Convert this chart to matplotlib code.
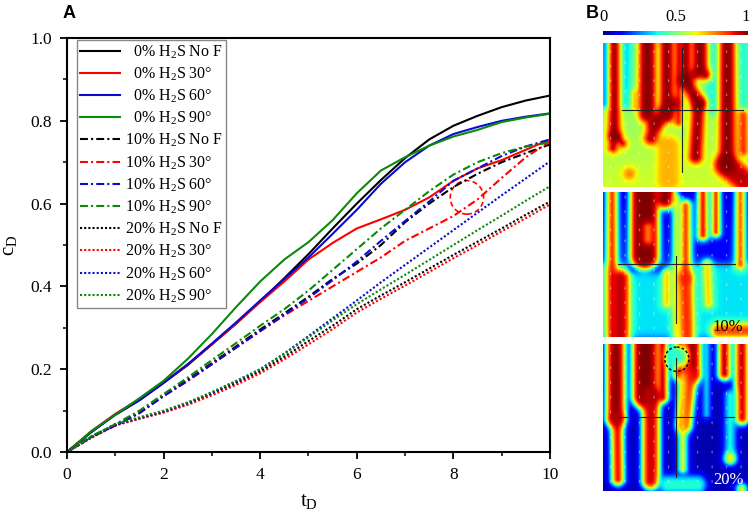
import numpy as np
import matplotlib
matplotlib.use('Agg')
import matplotlib.pyplot as plt
from matplotlib.patches import Ellipse, Circle

plt.rcParams['font.family'] = 'Liberation Serif'
plt.rcParams['mathtext.fontset'] = 'custom'
plt.rcParams['mathtext.rm'] = 'Liberation Serif'
plt.rcParams['mathtext.it'] = 'Liberation Serif:italic'

# dimensionless time
t_D = [0, 0.5, 1.0, 1.5, 2.0, 2.5, 3.0, 3.5, 4.0, 4.5, 5.0,
       5.5, 6.0, 6.5, 7.0, 7.5, 8.0, 8.5, 9.0, 9.5, 10.0]

# 0% H2S (solid)
c0_nof = [0, 0.048, 0.090, 0.125, 0.167, 0.210, 0.260, 0.310, 0.364, 0.420, 0.478,
          0.540, 0.600, 0.657, 0.710, 0.755, 0.788, 0.812, 0.833, 0.849, 0.861]
c0_30 = [0, 0.050, 0.092, 0.128, 0.168, 0.212, 0.260, 0.310, 0.362, 0.412, 0.465,
         0.505, 0.540, 0.562, 0.585, 0.615, 0.655, 0.685, 0.705, 0.730, 0.755]
c0_60 = [0, 0.048, 0.090, 0.125, 0.167, 0.212, 0.262, 0.313, 0.366, 0.418, 0.470,
         0.527, 0.585, 0.648, 0.700, 0.740, 0.768, 0.785, 0.800, 0.810, 0.818]
c0_90 = [0, 0.050, 0.090, 0.130, 0.172, 0.225, 0.285, 0.350, 0.412, 0.465, 0.507,
         0.560, 0.625, 0.680, 0.712, 0.740, 0.762, 0.778, 0.797, 0.808, 0.817]

# 10% H2S (dash-dot)
c10_nof = [0, 0.037, 0.065, 0.095, 0.137, 0.175, 0.215, 0.255, 0.296, 0.335, 0.375,
           0.418, 0.455, 0.500, 0.555, 0.600, 0.640, 0.672, 0.700, 0.722, 0.743]
c10_30 = [0, 0.036, 0.064, 0.094, 0.135, 0.172, 0.212, 0.252, 0.292, 0.330, 0.365,
          0.400, 0.435, 0.470, 0.510, 0.540, 0.570, 0.610, 0.662, 0.712, 0.750]
c10_60 = [0, 0.036, 0.064, 0.094, 0.135, 0.172, 0.212, 0.252, 0.292, 0.332, 0.372,
          0.415, 0.460, 0.510, 0.558, 0.605, 0.655, 0.685, 0.715, 0.738, 0.755]
c10_90 = [0, 0.038, 0.067, 0.100, 0.140, 0.180, 0.222, 0.263, 0.305, 0.345, 0.390,
          0.440, 0.490, 0.540, 0.585, 0.630, 0.670, 0.700, 0.722, 0.738, 0.748]

# 20% H2S (dotted)
c20_nof = [0, 0.035, 0.066, 0.082, 0.097, 0.117, 0.141, 0.167, 0.195, 0.230, 0.268,
           0.305, 0.345, 0.378, 0.410, 0.443, 0.476, 0.508, 0.540, 0.573, 0.605]
c20_30 = [0, 0.034, 0.064, 0.080, 0.095, 0.114, 0.137, 0.162, 0.190, 0.224, 0.260,
          0.297, 0.337, 0.370, 0.402, 0.435, 0.468, 0.500, 0.533, 0.565, 0.598]
c20_60 = [0, 0.035, 0.065, 0.082, 0.098, 0.118, 0.143, 0.170, 0.200, 0.238, 0.280,
          0.323, 0.366, 0.410, 0.452, 0.494, 0.536, 0.578, 0.620, 0.661, 0.702]
c20_90 = [0, 0.037, 0.068, 0.084, 0.100, 0.120, 0.145, 0.172, 0.200, 0.237, 0.277,
          0.318, 0.357, 0.393, 0.428, 0.464, 0.500, 0.536, 0.571, 0.607, 0.642]

labels = ['  0% H$_2$S No F', '  0% H$_2$S 30\u00b0', '  0% H$_2$S 60\u00b0', '  0% H$_2$S 90\u00b0',
          '10% H$_2$S No F', '10% H$_2$S 30\u00b0', '10% H$_2$S 60\u00b0', '10% H$_2$S 90\u00b0',
          '20% H$_2$S No F', '20% H$_2$S 30\u00b0', '20% H$_2$S 60\u00b0', '20% H$_2$S 90\u00b0']
series = [c0_nof, c0_30, c0_60, c0_90, c10_nof, c10_30, c10_60, c10_90,
          c20_nof, c20_30, c20_60, c20_90]

# panel B snapshots, sketched as strokes (x0, y0, x1, y1, half width, value), y from top
snap_0 = [(0.02, 0.0, 0.02, 0.42, 0.025, 0.08), (0.15, 0.0, 0.15, 0.42, 0.035, 0.30),
          (0.38, 0.05, 0.38, 0.42, 0.015, 0.35), (0.76, 0.0, 0.76, 0.45, 0.04, 0.35),
          (0.97, 0.0, 0.97, 0.45, 0.03, 0.38), (0.85, 0.85, 0.97, 0.95, 0.08, 0.95),
          (0.45, 0.72, 0.45, 0.95, 0.08, 0.72), (0.18, 0.91, 0.18, 0.91, 0.04, 0.78),
          (0.075, 0.0, 0.075, 0.64, 0.04, 1.0), (0.075, 0.64, 0.065, 0.73, 0.028, 1.0),
          (0.10, 0.66, 0.135, 0.70, 0.02, 1.0), (0.215, 0.35, 0.215, 0.44, 0.012, 0.75),
          (0.305, 0.0, 0.305, 0.49, 0.06, 1.0), (0.44, 0.0, 0.44, 0.50, 0.05, 1.0),
          (0.48, 0.42, 0.36, 0.56, 0.045, 0.98), (0.36, 0.56, 0.33, 0.66, 0.045, 0.98),
          (0.52, 0.0, 0.52, 0.55, 0.02, 0.97), (0.57, 0.0, 0.57, 0.26, 0.04, 1.0),
          (0.57, 0.26, 0.66, 0.42, 0.045, 1.0), (0.66, 0.42, 0.64, 0.79, 0.045, 1.0),
          (0.67, 0.0, 0.67, 0.18, 0.055, 1.0), (0.63, 0.22, 0.63, 0.22, 0.03, 1.0),
          (0.71, 0.22, 0.71, 0.22, 0.03, 1.0), (0.86, 0.0, 0.86, 0.85, 0.055, 1.0),
          (0.97, 0.50, 0.97, 0.75, 0.03, 0.9)]
snap_10 = [(0.0, 0.75, 1.0, 0.75, 0.25, 0.35), (0.2, 0.53, 0.42, 0.53, 0.03, 0.05),
           (0.06, 0.0, 0.06, 1.0, 0.035, 0.92), (0.12, 0.6, 0.12, 1.0, 0.06, 0.95),
           (0.285, 0.0, 0.285, 0.44, 0.10, 1.0), (0.31, 0.25, 0.31, 0.33, 0.025, 0.75),
           (0.43, 0.0, 0.43, 0.05, 0.07, 1.0), (0.505, 0.05, 0.505, 1.0, 0.018, 0.7),
           (0.57, 0.1, 0.57, 0.6, 0.035, 0.9), (0.57, 0.6, 0.58, 1.0, 0.05, 0.88),
           (0.44, 0.56, 0.44, 0.77, 0.025, 0.75), (0.69, 0.0, 0.69, 0.30, 0.03, 1.0),
           (0.78, 0.0, 0.78, 0.28, 0.025, 1.0), (0.95, 0.0, 0.95, 0.50, 0.03, 0.9),
           (0.72, 0.5, 0.73, 0.77, 0.025, 0.75), (0.8, 0.96, 1.0, 0.96, 0.05, 0.85)]
snap_20 = [(0.085, 0.0, 0.085, 0.5, 0.065, 1.0), (0.095, 0.5, 0.10, 0.92, 0.04, 0.95),
           (0.29, 0.0, 0.29, 0.35, 0.09, 1.0), (0.33, 0.35, 0.33, 0.93, 0.06, 0.95),
           (0.41, 0.0, 0.41, 0.36, 0.035, 1.0), (0.62, 0.0, 0.62, 0.2, 0.06, 1.0),
           (0.60, 0.2, 0.56, 0.55, 0.05, 0.9), (0.53, 0.0, 0.53, 0.2, 0.04, 1.0),
           (0.55, 0.22, 0.55, 0.85, 0.025, 0.7), (0.51, 0.08, 0.51, 0.08, 0.07, 0.4),
           (0.84, 0.0, 0.84, 0.2, 0.04, 1.0), (0.96, 0.0, 0.96, 0.5, 0.045, 0.98),
           (0.715, 0.0, 0.715, 0.48, 0.02, 0.4), (0.88, 0.35, 0.88, 0.78, 0.035, 0.4),
           (0.88, 0.78, 0.88, 0.78, 0.03, 0.7), (0.45, 0.96, 0.65, 0.96, 0.06, 0.4),
           (0.96, 0.99, 0.96, 0.99, 0.03, 0.7)]


def sig(z):
    return 1.0 / (1.0 + np.exp(-z))


def field(top, bot, strokes, n=150):
    y, x = np.mgrid[0:1:n * 1j, 0:1:n * 1j]
    f = top + (bot - top) * y
    for x0, y0, x1, y1, hw, val in strokes:
        dx, dy = x1 - x0, y1 - y0
        L2 = dx * dx + dy * dy
        s = 0.0 if L2 == 0 else np.clip(((x - x0) * dx + (y - y0) * dy) / L2, 0, 1)
        d = np.hypot(x - (x0 + s * dx), y - (y0 + s * dy))
        m = sig((hw - d) / 0.014)
        f = f * (1 - m) + val * m
    return f


fig = plt.figure(figsize=(7.54, 5.13), dpi=100)
ax = fig.add_axes([0.0889, 0.1189, 0.6405, 0.807])

colors = ['black', '#ff0000', '#0a0ad0', '#0a8a0a']
styles = ['-', (0, (3.8, 1.5, 1, 1.5)), (0, (1, 1))]
for i, (lab, c) in enumerate(zip(labels, series)):
    ax.plot(t_D, c, color=colors[i % 4], ls=styles[i // 4], lw=1.5, label=lab)

ax.add_patch(Ellipse((8.28, 0.615), 0.69, 0.081, fill=False, ec='#ff0000',
                     ls=(0, (3, 2)), lw=1.2))

ax.set_xlim(0, 10)
ax.set_ylim(0, 1.0)
ax.set_xticks([0, 2, 4, 6, 8, 10])
ax.set_xticks([1, 3, 5, 7, 9], minor=True)
ax.set_yticks(np.arange(0, 1.01, 0.2))
ax.set_yticks(np.arange(0.1, 1.0, 0.2), minor=True)
ax.set_yticklabels(['0.0', '0.2', '0.4', '0.6', '0.8', '1.0'])
ax.tick_params(which='major', length=5, width=1.3, labelsize=12.5, pad=6)
ax.tick_params(which='minor', length=3, width=1.1)
for sp in ax.spines.values():
    sp.set_linewidth(1.5)
ax.set_xlabel('t$_\\mathrm{D}$', fontsize=15, labelpad=6)
ax.set_ylabel('c$_\\mathrm{D}$', fontsize=15, labelpad=8)

leg = ax.legend(loc='upper left', bbox_to_anchor=(0.02, 0.995), borderaxespad=0,
                fontsize=11.5, handlelength=2.5, handletextpad=0.3, labelspacing=0.3,
                borderpad=0.2, fancybox=False, framealpha=1)
leg.get_frame().set_edgecolor('#888888')
leg.get_frame().set_linewidth(1.0)

fig.text(0.083, 0.99, 'A', family='Liberation Sans', weight='bold', fontsize=13, va='top')
fig.text(0.777, 0.99, 'B', family='Liberation Sans', weight='bold', fontsize=13, va='top')

# colour bar
cax = fig.add_axes([0.8002, 0.9318, 0.1923, 0.0078])
cax.imshow(np.linspace(0, 1, 256)[None, :], cmap='jet', aspect='auto')
cax.axis('off')
fig.text(0.8002, 0.952, '0', fontsize=12, ha='center', va='bottom')
fig.text(0.8965, 0.952, '0.5', fontsize=12, ha='center', va='bottom')
fig.text(0.9895, 0.952, '1', fontsize=12, ha='center', va='bottom')

panels = [
    (0.636, 0.2807, field(0.45, 0.6, snap_0), (0.467, 0.127, 0.966), (0.541, 0.04, 0.896), None),
    (0.3425, 0.2838, field(0.05, 0.2, snap_10), (0.499, 0.103, 0.91), (0.501, 0.44, 0.90), ('10%', 'black')),
    (0.0435, 0.286, field(0.03, 0.05, snap_20), (0.50, 0.103, 0.90), (0.501, 0.095, 0.905), ('20%', 'white')),
]
for k, (bottom, h, F, hl, vl, txt) in enumerate(panels):
    iax = fig.add_axes([0.8002, bottom, 0.1923, h])
    iax.imshow(F, cmap='jet', vmin=0, vmax=1, extent=(0, 1, 1, 0), aspect='auto',
               interpolation='bilinear')
    gy, gx = np.mgrid[0.05:1:0.1, 0.05:1:0.1]
    fv = F[(gy * 149).astype(int), (gx * 149).astype(int)]
    V = np.where(fv > 0.5, 0.025, -0.025)
    iax.quiver(gx, gy, np.zeros_like(V), V, color='white', alpha=0.45, angles='xy',
               scale_units='xy', scale=1, width=0.004, headwidth=3, headlength=3)
    iax.plot([hl[1], hl[2]], [hl[0], hl[0]], color='#222222', lw=0.8)
    iax.plot([vl[0], vl[0]], [vl[1], vl[2]], color='#222222', lw=0.8)
    if txt:
        iax.text(0.86, 0.93, txt[0], color=txt[1], fontsize=12, ha='center', va='center')
    if k == 2:
        iax.add_patch(Circle((0.507, 0.104), 0.083, fill=False, ec='black', ls=(0, (2, 1.5)), lw=1))
    iax.set_xlim(0, 1)
    iax.set_ylim(1, 0)
    iax.axis('off')

fig.savefig('out.png', dpi=100)
